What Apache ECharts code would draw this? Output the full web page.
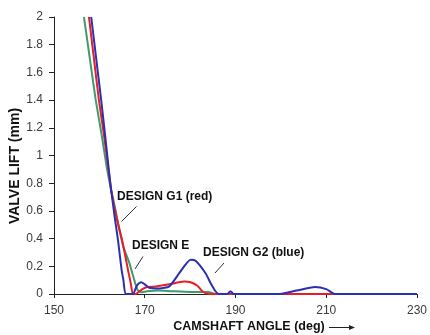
<!DOCTYPE html>
<html>
<head>
<meta charset="utf-8">
<script src="https://cdn.jsdelivr.net/npm/echarts@6/dist/echarts.min.js"></script>
<style>
html,body{margin:0;padding:0;background:#fff;}
#c{width:430px;height:335px;}
</style>
</head>
<body>
<div id="c"></div>
<script>
// Camshaft angle (deg) vs valve lift (mm) pairs
var designE = [
  [156.6,2.0],[157.9,1.7],[159.2,1.4],[160.5,1.15],[161.6,0.92],[162.6,0.75],
  [163.6,0.6],[164.3,0.48],[165.3,0.34],[166.6,0.225],[167.7,0.1],[168.4,0.03],
  [169.2,0.012],[170.5,0.02],[173,0.025],[176,0.02],[180,0.015],[184,0.015],[185.5,0]
];
var designG1 = [
  [157.7,2.0],[158.8,1.7],[159.9,1.4],[161.0,1.15],[161.8,0.95],[162.6,0.75],
  [163.8,0.55],[165.0,0.39],[165.8,0.26],[166.3,0.175],[166.9,0.08],[167.4,0],
  [168.0,0],[168.5,0.01],[169.5,0.035],[170.5,0.05],[172.5,0.055],[175.4,0.07],
  [178.7,0.09],[180.1,0.085],[181.6,0.06],[182.7,0.02],[184.1,0],[220.5,0]
];
var designG2 = [
  [158.2,2.0],[159.3,1.7],[160.4,1.4],[161.25,1.15],[162.0,0.92],[162.6,0.75],
  [163.4,0.55],[164.1,0.39],[164.9,0.175],[165.3,0.1],[165.8,0],[167.4,0],
  [168.0,0.04],[168.4,0.067],[169.2,0.084],[170,0.07],[171,0.045],[173.2,0.04],
  [175.4,0.055],[177.6,0.15],[180.1,0.247],[181.2,0.24],[183.4,0.15],[184.5,0.08],
  [185.6,0.02],[186.3,0],[188.2,0],[188.9,0.02],[189.6,0],[199.8,0],[203.5,0.025],
  [207.5,0.05],[210,0.035],[211.9,0],[230,0]
];
var xTicks = {min:150, max:230, interval:20};
var yTicks = {min:0, max:2, interval:0.2};
var labels = {e:'DESIGN E', g1:'DESIGN G1 (red)', g2:'DESIGN G2 (blue)'};
var xTitle = 'CAMSHAFT ANGLE (deg)';
var yTitle = 'VALVE LIFT (mm)';

var FONT = '"Liberation Sans", Arial, sans-serif';
var chart = echarts.init(document.getElementById('c'), null, {renderer:'canvas'});
function mkSeries(name, data, color){
  return {
    name:name, type:'line', data:data, showSymbol:false, symbol:'none',
    smooth:0.2, clip:true,
    lineStyle:{color:color, width:2}, itemStyle:{color:color}, animation:false
  };
}
chart.setOption({
  animation:false,
  backgroundColor:'#ffffff',
  grid:{left:54, right:10, top:17, bottom:41, containLabel:false},
  xAxis:{
    type:'value', min:xTicks.min, max:xTicks.max, interval:xTicks.interval,
    axisLine:{show:true, lineStyle:{color:'#222', width:1}},
    axisTick:{show:true, length:4, lineStyle:{color:'#222'}},
    axisLabel:{color:'#3a3a3a', fontSize:12, fontFamily:FONT, margin:11},
    splitLine:{show:false}
  },
  yAxis:{
    type:'value', min:yTicks.min, max:yTicks.max, interval:yTicks.interval,
    axisLine:{show:true, lineStyle:{color:'#222', width:1}},
    axisTick:{show:true, length:5, lineStyle:{color:'#222'}},
    axisLabel:{color:'#3a3a3a', fontSize:12, fontFamily:FONT, margin:11},
    splitLine:{show:false}
  },
  series:[
    mkSeries(labels.e, designE, '#3d9c6e'),
    mkSeries(labels.g1, designG1, '#ec1c24'),
    mkSeries(labels.g2, designG2, '#2a30b3')
  ],
  graphic:[
    {type:'text', left:117, top:191, style:{text:labels.g1, fill:'#111', font:'bold 12px ' + FONT}},
    {type:'text', left:132, top:240, style:{text:labels.e, fill:'#111', font:'bold 12px ' + FONT}},
    {type:'text', left:203, top:247, style:{text:labels.g2, fill:'#111', font:'bold 12px ' + FONT}},
    {type:'line', shape:{x1:136.5, y1:206.5, x2:121.5, y2:221.5}, style:{stroke:'#333', lineWidth:1}},
    {type:'line', shape:{x1:143, y1:256.5, x2:135, y2:269}, style:{stroke:'#333', lineWidth:1}},
    {type:'line', shape:{x1:224, y1:263, x2:215, y2:273}, style:{stroke:'#333', lineWidth:1}},
    {type:'text', x:249, y:327, style:{text:xTitle, fill:'#111', font:'bold 12.5px ' + FONT, textAlign:'center', textVerticalAlign:'middle'}},
    {type:'text', x:15, y:166, rotation:Math.PI/2, style:{text:yTitle, fill:'#111', font:'bold 14px ' + FONT, textAlign:'center', textVerticalAlign:'middle'}},
    {type:'line', shape:{x1:329, y1:327.5, x2:350, y2:327.5}, style:{stroke:'#222', lineWidth:1}},
    {type:'polygon', shape:{points:[[349,325],[355,327.5],[349,330]]}, style:{fill:'#222'}}
  ]
});
</script>
</body>
</html>
